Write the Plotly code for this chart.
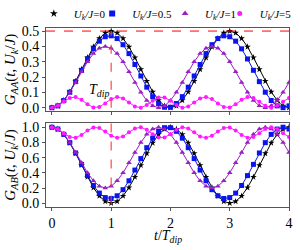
import plotly.graph_objects as go

# time axis in units of T_dip
t = [round(0.1 * i, 1) for i in range(41)]

labels = ["<i>U<sub>k</sub>/J</i>=0", "<i>U<sub>k</sub>/J</i>=0.5",
          "<i>U<sub>k</sub>/J</i>=1", "<i>U<sub>k</sub>/J</i>=5"]

# ---- G_AA (top panel) ----
gaa_u0 = [0, 0.012, 0.048, 0.103, 0.173, 0.25, 0.327, 0.397, 0.452, 0.488, 0.5,
          0.488, 0.452, 0.397, 0.327, 0.25, 0.173, 0.103, 0.048, 0.012, 0,
          0.012, 0.048, 0.103, 0.173, 0.25, 0.327, 0.397, 0.452, 0.488, 0.5,
          0.488, 0.452, 0.397, 0.327, 0.25, 0.173, 0.103, 0.048, 0.012, 0]
gaa_u05 = [0, 0.012, 0.047, 0.101, 0.170, 0.244, 0.318, 0.384, 0.434, 0.463, 0.469,
           0.451, 0.411, 0.353, 0.282, 0.207, 0.134, 0.072, 0.027, 0.003, 0.003,
           0.027, 0.072, 0.134, 0.207, 0.282, 0.353, 0.411, 0.451, 0.469, 0.463,
           0.434, 0.384, 0.318, 0.244, 0.170, 0.101, 0.047, 0.012, 0.0, 0.012]
gaa_u1 = [0, 0.012, 0.047, 0.100, 0.165, 0.235, 0.300, 0.353, 0.388, 0.400, 0.388,
          0.353, 0.300, 0.235, 0.165, 0.100, 0.047, 0.012, 0.0, 0.012, 0.047,
          0.100, 0.165, 0.235, 0.300, 0.353, 0.388, 0.400, 0.388, 0.353, 0.300,
          0.235, 0.165, 0.100, 0.047, 0.012, 0.0, 0.012, 0.047, 0.100, 0.165]
gaa_u5 = [0, 0.012, 0.039, 0.064, 0.069, 0.051, 0.022, 0.002, 0.004, 0.028, 0.056,
          0.070, 0.060, 0.034, 0.008, 0.0, 0.017, 0.045, 0.067, 0.067, 0.045,
          0.017, 0.0, 0.008, 0.034, 0.060, 0.070, 0.056, 0.028, 0.004, 0.002,
          0.022, 0.051, 0.069, 0.064, 0.039, 0.012, 0.0, 0.012, 0.039, 0.064]

# ---- G_AB (bottom panel) ----
gab_u0 = [1.0, 0.976, 0.905, 0.794, 0.655, 0.5, 0.345, 0.206, 0.095, 0.024, 0.0,
          0.024, 0.095, 0.206, 0.345, 0.5, 0.655, 0.794, 0.905, 0.976, 1.0,
          0.976, 0.905, 0.794, 0.655, 0.5, 0.345, 0.206, 0.095, 0.024, 0.0,
          0.024, 0.095, 0.206, 0.345, 0.5, 0.655, 0.794, 0.905, 0.976, 1.0]
gab_u05 = [1.0, 0.976, 0.906, 0.797, 0.661, 0.511, 0.363, 0.233, 0.133, 0.074, 0.062,
           0.098, 0.178, 0.295, 0.436, 0.587, 0.731, 0.856, 0.946, 0.994, 0.994,
           0.946, 0.856, 0.731, 0.587, 0.436, 0.295, 0.178, 0.098, 0.062, 0.074,
           0.133, 0.233, 0.363, 0.511, 0.661, 0.797, 0.906, 0.976, 1.0, 0.976]
gab_u1 = [1.0, 0.976, 0.906, 0.8, 0.669, 0.531, 0.4, 0.294, 0.224, 0.2, 0.224,
          0.294, 0.4, 0.531, 0.669, 0.8, 0.906, 0.976, 1.0, 0.976, 0.906,
          0.8, 0.669, 0.531, 0.4, 0.294, 0.224, 0.2, 0.224, 0.294, 0.4,
          0.531, 0.669, 0.8, 0.906, 0.976, 1.0, 0.976, 0.906, 0.8, 0.669]
gab_u5 = [1.0, 0.976, 0.921, 0.872, 0.862, 0.899, 0.956, 0.996, 0.991, 0.945, 0.888,
          0.860, 0.879, 0.933, 0.984, 0.999, 0.967, 0.909, 0.866, 0.866, 0.909,
          0.967, 0.999, 0.984, 0.933, 0.879, 0.860, 0.888, 0.945, 0.991, 0.996,
          0.956, 0.899, 0.862, 0.872, 0.921, 0.976, 1.0, 0.976, 0.921, 0.872]

top_series = [gaa_u0, gaa_u05, gaa_u1, gaa_u5]
bot_series = [gab_u0, gab_u05, gab_u1, gab_u5]
colors = ["black", "#0a14f0", "#9a1fc4", "#ff1aff"]
symbols = ["star", "square", "triangle-up", "circle"]
msizes = [5, 5, 5, 4]
legend_ids = ["legend", "legend2", "legend3", "legend4"]
legend_x = [-0.05, 0.19, 0.49, 0.715]

x_ticks = [0, 1, 2, 3, 4]
top_ticks = [0.0, 0.1, 0.2, 0.3, 0.4, 0.5]
bot_ticks = [0.0, 0.2, 0.4, 0.6, 0.8, 1.0]

FONT = "Liberation Serif"

fig = go.Figure()
for i in range(4):
    fig.add_trace(go.Scatter(
        x=t, y=top_series[i], name=labels[i], mode="lines+markers",
        line=dict(color=colors[i], width=1),
        marker=dict(symbol=symbols[i], size=msizes[i], color=colors[i]),
        xaxis="x", yaxis="y", legendgroup=str(i), showlegend=False))
for i in range(4):
    fig.add_trace(go.Scatter(
        x=t, y=bot_series[i], name=labels[i], mode="lines+markers",
        line=dict(color=colors[i], width=1),
        marker=dict(symbol=symbols[i], size=msizes[i], color=colors[i]),
        xaxis="x2", yaxis="y2", legendgroup=str(i), showlegend=False))
# legend-only entries (marker keys, compact so entries do not collide)
for i in range(4):
    fig.add_trace(go.Scatter(
        x=[None], y=[None], name=labels[i], mode="markers",
        marker=dict(symbol=symbols[i], size=msizes[i] + 1, color=colors[i]),
        xaxis="x", yaxis="y", legend=legend_ids[i], legendgroup=str(i),
        showlegend=True))

axis_common = dict(showline=True, mirror=True, linecolor="#555", linewidth=1,
                   ticks="outside", ticklen=3, tickcolor="#555", showgrid=False,
                   zeroline=False, automargin=False,
                   tickfont=dict(family=FONT, size=14, color="black"))

legend_style = dict(orientation="h", xanchor="left", y=1.0, yanchor="bottom",
                    xref="paper", yref="paper", font=dict(family=FONT, size=11),
                    itemwidth=30, bgcolor="rgba(0,0,0,0)")

layout_legends = {lid: dict(x=legend_x[i], **legend_style) for i, lid in enumerate(legend_ids)}

fig.update_layout(
    width=300, height=250,
    margin=dict(l=46, r=11, t=28, b=43, autoexpand=False),
    paper_bgcolor="white", plot_bgcolor="white",
    font=dict(family=FONT, color="black"),
    showlegend=True,
    xaxis=dict(domain=[0, 1], range=[-0.1, 4.0], tickvals=x_ticks, showticklabels=False,
               anchor="y", **axis_common),
    yaxis=dict(domain=[0.536, 1], range=[-0.022, 0.52], tickvals=top_ticks,
               tickformat=".1f", anchor="x",
               title=dict(text="<i>G<sub>AA</sub></i>(<i>t</i>, <i>U<sub>k</sub></i>/<i>J</i>)",
                          font=dict(family=FONT, size=15), standoff=2),
               **axis_common),
    xaxis2=dict(domain=[0, 1], range=[-0.1, 4.0], tickvals=x_ticks, anchor="y2",
                **axis_common),
    yaxis2=dict(domain=[0, 0.469], range=[-0.05, 1.055], tickvals=bot_ticks,
                tickformat=".1f", anchor="x2",
                title=dict(text="<i>G<sub>AB</sub></i>(<i>t</i>, <i>U<sub>k</sub></i>/<i>J</i>)",
                           font=dict(family=FONT, size=15), standoff=2),
                **axis_common),
    **layout_legends,
)

# reference lines
fig.add_shape(type="line", xref="x domain", yref="y", x0=0, x1=1, y0=0.5, y1=0.5,
              line=dict(color="red", width=1, dash="dash"))
fig.add_shape(type="line", xref="x", yref="y", x0=1, x1=1, y0=0, y1=0.5,
              line=dict(color="rgba(255,60,60,0.75)", width=1.5, dash="dash"))
fig.add_shape(type="line", xref="x2", yref="y2 domain", x0=1, x1=1, y0=0.03, y1=1,
              line=dict(color="rgba(255,60,60,0.75)", width=1.5, dash="dash"))

fig.add_annotation(x=0.8, y=0.115, xref="x", yref="y", showarrow=False,
                   text="<i>T<sub>dip</sub></i>", font=dict(family=FONT, size=14))
# x-axis title
fig.add_annotation(x=0.5, y=-0.105, xref="paper", yref="paper", showarrow=False,
                   yanchor="top", text="<i>t</i>/<i>T<sub>dip</sub></i>",
                   font=dict(family=FONT, size=14))

fig.write_html("out.html", config={"displayModeBar": False},
               post_script="document.body.style.margin='0px';")
